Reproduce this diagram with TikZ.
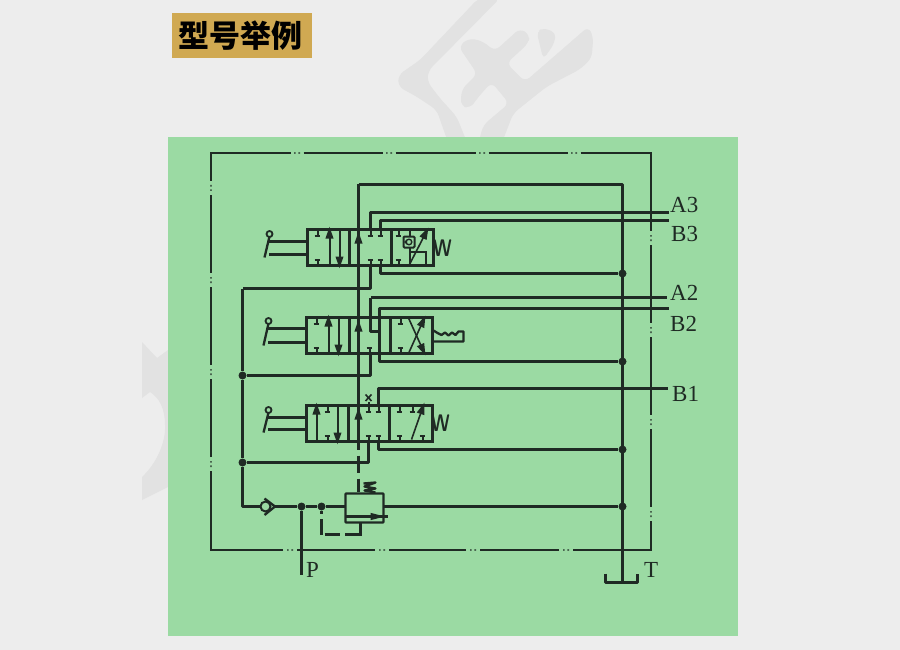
\documentclass[tikz,border=0pt]{standalone}
\usepackage{fontspec}
\usetikzlibrary{arrows.meta}
\setmainfont{Liberation Serif}
\newfontfamily\cjkfont{Noto Sans CJK SC}[BoldFont={Noto Sans CJK SC Black}]
\definecolor{pagebg}{HTML}{EDEDED}
\definecolor{markgray}{HTML}{E2E2E2}
\definecolor{panelgreen}{HTML}{9BDAA3}
\definecolor{titlegold}{HTML}{D0A952}
\definecolor{ink}{HTML}{1F2A24}
\tikzset{
  pipe/.style={draw=ink,line width=2.3pt,line join=round},
  thin pipe/.style={draw=ink,line width=2.2pt},
  framel/.style={draw=ink,line width=1.4pt},
  headtip/.style={-{Stealth[length=12pt,width=7.5pt,inset=0pt]}},
  flow/.style={draw=ink,line width=2pt,headtip},
  port/.style={draw=ink,line width=2pt},
  valvebox/.style={draw=ink,line width=2.3pt},
  junction/.style={circle,fill=ink,inner sep=0pt,minimum size=8pt},
  label/.style={font=\fontsize{23}{23}\selectfont,text=ink,inner sep=0pt},
  coil/.style={font=\fontsize{24}{24}\selectfont\sffamily\bfseries,text=ink,inner sep=0pt,xscale=0.75}
}
% T-shaped port: top of valve (+1) or bottom of valve (-1)
\newcommand{\portT}[3]{\draw[port] (#1,#2) -- (#1,#2+#3*6) (#1-2.8,#2+#3*6) -- (#1+2.8,#2+#3*6);}
% hand lever at the left of a valve
\newcommand{\leverat}[4]{% x of valve, y upper rod, y lower rod, name
  \coordinate (#4a) at (#1,#2); \coordinate (#4b) at (#1,#3);
  \draw[pipe] (#4a) -- (#1-39,#2) (#4b) -- (#1-39,#3);
  \draw[pipe] (#1-43,#3+3) -- (#1-38,#2-5);
  \draw[draw=ink,line width=1.8pt] (#1-38,#2-7.5) circle (3);
}
\begin{document}
\begin{tikzpicture}[x=1pt,y=-1pt]
\useasboundingbox (0,0) rectangle (900,650);
\fill[pagebg] (0,0) rectangle (900,650);
% watermark
\begin{scope}[shift={(380pt,0pt)},x=0.3333pt,y=-0.3333pt]
  \fill[markgray,rounded corners=6pt] (295,-5) -- (120,180) -- (55,225) -- (55,260) -- (110,290) -- (170,330) -- (205,430) -- (262,430) -- (230,350) -- (180,295) -- (142,245) -- (145,212) -- (360,-5) -- cycle;
  \fill[markgray,rounded corners=6pt] (236,140) -- (265,115) -- (305,122) -- (345,153) -- (420,85) -- (450,105) -- (445,130) -- (380,190) -- (435,245) -- (625,80) -- (640,110) -- (635,175) -- (600,208) -- (500,260) -- (400,340) -- (365,430) -- (295,430) -- (310,375) -- (387,310) -- (335,247) -- (300,285) -- (270,325) -- (242,318) -- (245,268) -- (292,222) -- cycle;
  \fill[markgray,rounded corners=5pt] (470,95) -- (490,84) -- (528,98) -- (522,132) -- (490,178) -- cycle;
\end{scope}
\fill[markgray] (142,342) -- (157,358) -- (168,350) -- (168,487) -- (142,500) -- (142,477) .. controls (158,462) and (166,440) .. (165,425) .. controls (165,410) and (160,398) .. (150,392) -- (142,398) -- cycle;
% panels
\fill[panelgreen] (168,137) rectangle (738,636);
\fill[titlegold] (172,13) rectangle (312,58);
\node[inner sep=0pt,text=black] (title) at (240.5,36) {\fontsize{31}{31}\selectfont\cjkfont\bfseries 型号举例};
% dash-dotted frame
\draw[framel] (290.5,153) -- (211,153) -- (211,181);
\draw[framel] (303.5,153) -- (382.5,153) (395.5,153) -- (475.5,153) (488.5,153) -- (567.5,153);
\draw[framel] (580.5,153) -- (651,153) -- (651,231);
\draw[framel] (651,245) -- (651,323) (651,337) -- (651,415) (651,429) -- (651,507);
\draw[framel] (651,521) -- (651,550) -- (573,550);
\draw[framel] (559,550) -- (480,550) (466,550) -- (389,550) (375,550) -- (297,550);
\draw[framel] (283,550) -- (211,550) -- (211,471);
\draw[framel] (211,457) -- (211,379) (211,365) -- (211,287) (211,273) -- (211,195);
\foreach \c in {297,389,482,574} {\fill[ink] (\c-3,152.4) rectangle (\c-1.4,153.6) (\c+1.4,152.4) rectangle (\c+3,153.6);}
\foreach \c in {290,382,473,566} {\fill[ink] (\c-3,549.4) rectangle (\c-1.4,550.6) (\c+1.4,549.4) rectangle (\c+3,550.6);}
\foreach \c in {188,280,372,464} {\fill[ink] (210.4,\c-3) rectangle (211.6,\c-1.4) (210.4,\c+1.4) rectangle (211.6,\c+3);}
\foreach \c in {238,330,422,514} {\fill[ink] (650.4,\c-3) rectangle (651.6,\c-1.4) (650.4,\c+1.4) rectangle (651.6,\c+3);}

\begin{scope}[shift={(0.5,0.5)}]
% junctions
\node[junction] (j3) at (622,273) {};
\node[junction] (j2) at (622,361) {};
\node[junction] (j1) at (622,449) {};
\node[junction] (j0) at (622,506) {};
\node[junction] (l2) at (242,375) {};
\node[junction] (l1) at (242,462) {};
\node[junction] (pj) at (301,506) {};
\node[junction] (cj) at (321,506) {};
\coordinate (tbase) at (622,582);
\coordinate (ttop) at (622,184);
\coordinate (drainTop) at (358,184);
\coordinate (a3) at (668,212);
\coordinate (b3) at (668,220);
\coordinate (a2) at (666,297);
\coordinate (b2) at (668,308);
\coordinate (b1) at (667,388);
\coordinate (pend) at (301,574);

% tank and drain
\draw[pipe] (drainTop) -- (ttop) -- (tbase);
\draw[pipe] (605,573) -- (605,582) -- (637,582) -- (637,573);
\draw[pipe] (drainTop) -- (358,449);
\draw[thin pipe] (358,455) -- (358,472) (358,478) -- (358,491);

% pressure supply
\draw[pipe] (242,288) -- (l2) -- (l1) -- (242,506) -- (260,506);
\draw[pipe] (274,506) -- (pj) -- (cj) -- (345,506);
\draw[pipe] (pj) -- (pend);
\draw[pipe] (383,506) -- (j0);

% check valve
\draw[draw=ink,line width=2pt] (265,506) circle (5);
\draw[pipe] (264,498) -- (274.5,506) -- (264,514.5);

% relief valve
\node[draw=ink,line width=2.3pt,rounded corners=0.8pt,inner sep=0pt,minimum width=38pt,minimum height=29pt] (relief) at (364,507.5) {};
\draw[thin pipe] (345,516) -- (387,516);
\fill[ink] (370,512.3) -- (384,516) -- (370,519.7) -- cycle;
\draw[pipe] (363,483) -- (375,482) -- (364,486) -- (375,488) -- (364,490) -- (375,492);
\draw[thin pipe] (321,510) -- (321,513.5) (321,518.5) -- (321,534);
\draw[thin pipe] (324,534) -- (339,534) (344.5,534) -- (360,534) -- (360,521.5);

% ---------- valve 3 (top)
\node[valvebox,inner sep=0pt,minimum width=126pt,minimum height=36pt] (v3) at (370,247) {};
\draw[valvebox] (349,229) -- (349,265) (391,229) -- (391,265);
\leverat{307}{241}{254}{h3}
\portT{317}{229}{1} \portT{317}{265}{-1}
\draw[flow] (329,265) -- (329,226);
\draw[flow] (339,229) -- (339,268);
\draw[flow] (358,265) -- (358,231);
\portT{370}{229}{1} \portT{380}{229}{1} \portT{370}{265}{-1} \portT{380}{265}{-1}
\portT{398}{229}{1} \portT{398}{265}{-1}
\draw[port] (409,229) -- (409,236) (409,247) -- (409,265);
\draw[draw=ink,line width=2pt,rounded corners=1pt] (403,236) rectangle (414,247);
\draw[draw=ink,line width=1.4pt] (408.5,241.5) circle (2.8);
\fill[ink] (403.5,241.5) -- (406.1,239.1) -- (406.1,243.9) -- cycle;
\draw[port] (409,251) -- (425,251) -- (425,265);
\draw[draw=ink,line width=1.6pt,headtip] (409,264) -- (428,227);
\node[coil] (w3) at (442,248) {W};
\draw[pipe] (370,229) -- (370,212) -- (a3);
\draw[pipe] (380,229) -- (380,220) -- (b3);
\draw[pipe] (380,265) -- (380,273) -- (j3);
\draw[pipe] (370,265) -- (370,288) -- (242,288);
\node[label,anchor=west] (A3) at (669.5,204.5) {A3};
\node[label,anchor=west] (B3) at (670.5,233.5) {B3};

% ---------- valve 2 (middle)
\node[valvebox,inner sep=0pt,minimum width=126pt,minimum height=36pt] (v2) at (369,335) {};
\draw[valvebox] (349,317) -- (349,353) (390,317) -- (390,353);
\leverat{306}{328}{342}{h2}
\portT{316}{317}{1} \portT{316}{353}{-1}
\draw[flow] (328,353) -- (328,314);
\draw[flow] (338,317) -- (338,356);
\draw[flow] (358,353) -- (358,319);
\portT{369}{353}{-1}
\portT{400}{317}{1} \portT{400}{353}{-1}
\draw[pipe] (370,297) -- (370,331) -- (379,331);
\draw[draw=ink,line width=1.6pt,headtip] (408,353) -- (425,315);
\draw[draw=ink,line width=1.6pt,headtip] (408,317.5) -- (425,355);
\draw[pipe] (a2) -- (370,297);
\draw[pipe] (379,353) -- (379,308) -- (b2);
\draw[pipe] (379,353) -- (379,361) -- (j2);
\draw[pipe] (370,353) -- (370,375) -- (l2);
\draw[pipe] (433,330) -- (437,332.5) -- (441,334.5) -- (444.5,332) -- (448,335) -- (451.5,332) -- (455,334.5) -- (458,331) -- (463,331) -- (463,341) -- (433,341);
\node[label,anchor=west] (A2) at (669.5,292.5) {A2};
\node[label,anchor=west] (B2) at (669.5,323.5) {B2};

% ---------- valve 1 (bottom)
\node[valvebox,inner sep=0pt,minimum width=126pt,minimum height=36pt] (v1) at (369,423) {};
\draw[valvebox] (348,405) -- (348,441) (389,405) -- (389,441);
\leverat{306}{417}{429}{h1}
\draw[flow] (316,441) -- (316,402);
\portT{327}{405}{1} \portT{327}{441}{-1}
\draw[flow] (337,405) -- (337,444);
\draw[flow] (358,441) -- (358,407);
\portT{368}{405}{1} \portT{378}{405}{1} \portT{368}{441}{-1} \portT{378}{441}{-1}
\portT{399}{405}{1} \portT{412}{405}{1} \portT{399}{441}{-1} \portT{422}{441}{-1}
\draw[draw=ink,line width=1.6pt,headtip] (411,439) -- (424,402);
\node[coil] (w1) at (440,423) {W};
\draw[port] (368,405) -- (368,401);
\draw[draw=ink,line width=1.6pt] (365,394) -- (371,400.5) (371,394) -- (365,400.5);
\draw[pipe] (378,405) -- (378,388) -- (b1);
\draw[pipe] (378,441) -- (378,449) -- (j1);
\draw[pipe] (368,441) -- (368,462) -- (l1);
\node[label,anchor=west] (B1) at (671.5,393) {B1};

\node[label,anchor=west] (P) at (305.5,569.5) {P};
\node[label,anchor=west] (T) at (643.5,569.5) {T};
\end{scope}
\end{tikzpicture}
\end{document}
